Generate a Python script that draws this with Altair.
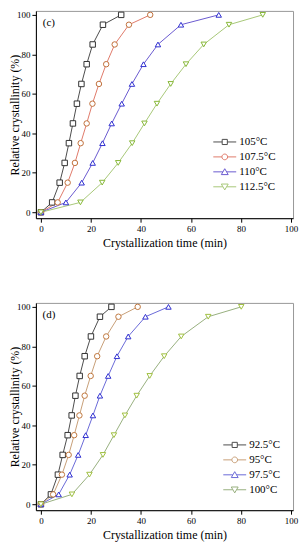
import altair as alt
import pandas as pd

FONT = "Liberation Serif"

# relative crystallinity levels (%) shared by every series
levels = [0, 5, 15, 25, 35, 45, 55, 65, 75, 85, 95, 100]

# panel (c) crystallization times (min)
c_labels = ["105°C", "107.5°C", "110°C", "112.5°C"]
c_105 = [0, 4.5, 7.5, 9.5, 11.2, 12.8, 14.4, 16.2, 18.3, 20.7, 24.8, 32.1]
c_1075 = [0, 6.7, 10.7, 13.6, 15.9, 18.3, 20.6, 23.2, 26.1, 29.5, 35.2, 43.7]
c_110 = [0, 10.0, 16.3, 20.7, 24.6, 28.3, 32.3, 36.4, 41.0, 46.8, 56.0, 71.1]
c_1125 = [0, 15.8, 24.5, 30.9, 36.5, 41.4, 46.4, 51.9, 58.0, 65.1, 75.2, 88.7]

# panel (d) crystallization times (min)
d_labels = ["92.5°C", "95°C", "97.5°C", "100°C"]
d_925 = [0, 4.0, 6.8, 8.7, 10.7, 12.3, 13.8, 15.5, 17.5, 20.0, 23.6, 28.2]
d_95 = [0, 4.9, 8.4, 11.1, 13.3, 15.4, 17.5, 19.9, 22.5, 26.1, 31.0, 38.7]
d_975 = [0, 7.1, 11.5, 14.9, 17.9, 20.8, 23.6, 26.9, 30.4, 34.9, 41.8, 51.0]
d_100 = [0, 12.4, 19.4, 24.8, 29.2, 33.6, 38.3, 43.5, 49.3, 56.1, 66.9, 80.1]

line_colors_c = ["#4d4d4d", "#e07a6a", "#6a5ad0", "#a8c878"]
point_colors_c = ["#333333", "#c0703c", "#3030d0", "#88b838"]
line_colors_d = ["#4d4d4d", "#c8a078", "#6a6ad8", "#98b080"]
point_colors_d = ["#333333", "#c07840", "#3030d0", "#a0c040"]

shapes = ["square", "circle", "triangle-up", "triangle-down"]
legend_paths = [
    "M-2,0H-0.45M0.45,0H2M-0.45,-0.45H0.45V0.45H-0.45Z",
    "M-2,0H-0.5M0.5,0H2M0.5,0A0.5,0.5 0 1,1 -0.5,0A0.5,0.5 0 1,1 0.5,0Z",
    "M-2,0H-0.35M0.35,0H2M0,-0.55L0.6,0.48L-0.6,0.48Z",
    "M-2,0H-0.35M0.35,0H2M0,0.55L0.6,-0.48L-0.6,-0.48Z",
]


def make_df(labels, series):
    rows = []
    for lab, vals in zip(labels, series):
        for lv, t in zip(levels, vals):
            rows.append({"series": lab, "time": t, "level": lv})
    return pd.DataFrame(rows)


def axis(title_pad):
    return alt.Axis(
        values=list(range(0, 101, 10)),
        labelExpr="datum.value % 20 == 0 ? datum.label : ''",
        tickSize={"condition": {"test": "datum.value % 20 == 0", "value": 4}, "value": 2},
        grid=False,
        domainColor="black",
        tickColor="black",
        labelColor="black",
        titleColor="black",
        labelFont=FONT,
        titleFont=FONT,
        labelFontSize=9,
        titleFontSize=12,
        titleFontWeight="normal",
        labelPadding=2,
        titlePadding=title_pad,
    )


def panel(df, labels, tag, lcols, pcols, lx, ly):
    x = alt.X("time:Q", scale=alt.Scale(domain=[-2, 100.8], nice=False, zero=False),
              axis=axis(4), title="Crystallization time (min)")
    y = alt.Y("level:Q", scale=alt.Scale(domain=[-3, 102], nice=False, zero=False),
              axis=axis(-5), title="Relative crystallinity (%)")
    base = alt.Chart(df)
    lines = base.mark_line(strokeWidth=1).encode(
        x=x, y=y,
        color=alt.Color("series:N", scale=alt.Scale(domain=labels, range=lcols), legend=None),
        order=alt.Order("level:Q"),
    )
    pts = base.mark_point(fill="white", fillOpacity=1, strokeWidth=1, size=30, opacity=1).encode(
        x=x, y=y,
        color=alt.Color("series:N", scale=alt.Scale(domain=labels, range=pcols), legend=None),
        shape=alt.Shape("series:N", scale=alt.Scale(domain=labels, range=shapes), legend=None),
    )
    leg = alt.Legend(
        title=None, orient="none", legendX=lx, legendY=ly,
        labelFont=FONT, labelFontSize=11, labelColor="black",
        symbolSize=132, symbolStrokeWidth=1, symbolOpacity=1,
        labelOffset=8, rowPadding=3,
    )
    keys = base.mark_point(opacity=0, size=132, filled=False).encode(
        x=x, y=y,
        color=alt.Color("series:N", scale=alt.Scale(domain=labels, range=lcols), legend=leg),
        shape=alt.Shape("series:N", scale=alt.Scale(domain=labels, range=legend_paths), legend=leg),
    )
    tag_df = pd.DataFrame({"time": [3.2], "level": [96], "t": [tag]})
    txt = alt.Chart(tag_df).mark_text(font=FONT, fontSize=11, color="black").encode(
        x=alt.X("time:Q"), y=alt.Y("level:Q"), text="t:N"
    )
    return alt.layer(lines, pts, keys, txt).resolve_scale(
        color="independent", shape="independent"
    ).properties(width=258, height=208)


top = panel(make_df(c_labels, [c_105, c_1075, c_110, c_1125]), c_labels, "(c)",
            line_colors_c, point_colors_c, 183, 125)
bottom = panel(make_df(d_labels, [d_925, d_95, d_975, d_100]), d_labels, "(d)",
               line_colors_d, point_colors_d, 193, 136)

chart = alt.vconcat(top, bottom, spacing=52).resolve_scale(
    color="independent", shape="independent"
).properties(padding=0).configure_view(stroke="#999999", strokeWidth=1)

chart.save("out.html", embed_options={"renderer": "svg", "actions": False})
